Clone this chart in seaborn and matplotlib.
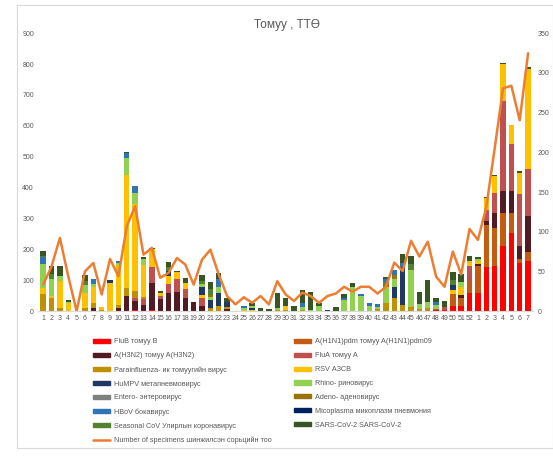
import numpy as np
import pandas as pd
import matplotlib
matplotlib.use("Agg")
import matplotlib.pyplot as plt
import seaborn as sns
from matplotlib.patches import Rectangle

# weeks: 1..52 of one season, then 1..7 of the next year
weeks = [str(w) for w in range(1, 53)] + [str(w) for w in range(1, 8)]

# positive specimens per virus (right axis, 0-350)
flu_b = [0, 0, 0, 0, 0, 0, 0, 0, 0, 0,
         0, 2, 0, 1, 0, 0, 0, 0, 0, 0,
         0, 0, 0, 0, 0, 0, 0, 0, 0, 0,
         0, 0, 0, 0, 0, 0, 0, 0, 0, 0,
         0, 0, 0, 0, 0, 0, 0, 1, 2, 6,
         7, 23, 23, 55, 57, 82, 99, 61, 63]
h1n1 = [0, 0, 0, 0, 0, 0, 0, 0, 0, 0,
        0, 0, 0, 0, 0, 0, 0, 0, 0, 0,
        0, 0, 0, 0, 0, 0, 0, 0, 0, 0,
        0, 0, 0, 0, 0, 0, 0, 0, 0, 0,
        0, 0, 0, 0, 0, 0, 0, 0, 0, 15,
        10, 15, 34, 53, 48, 42, 25, 5, 11]
h3n2 = [0, 0, 0, 0, 0, 0, 4, 0, 0, 4,
        19, 11, 8, 35, 15, 23, 24, 16, 11, 6,
        0, 0, 3, 0, 0, 0, 0, 0, 0, 0,
        0, 0, 0, 0, 0, 0, 0, 0, 0, 0,
        0, 0, 0, 0, 0, 0, 0, 0, 0, 0,
        3, 0, 2, 6, 19, 27, 27, 16, 46]
flu_a = [0, 0, 0, 0, 0, 0, 0, 0, 0, 0,
         0, 3, 7, 20, 4, 11, 17, 12, 0, 10,
         0, 0, 0, 0, 0, 0, 0, 0, 0, 0,
         0, 0, 0, 0, 0, 0, 0, 0, 0, 0,
         0, 0, 0, 0, 0, 0, 0, 2, 3, 0,
         0, 19, 0, 13, 25, 114, 59, 65, 59]
para = [21, 17, 4, 0, 0, 4, 6, 2, 0, 4,
        10, 10, 3, 0, 0, 0, 0, 0, 0, 0,
        4, 6, 2, 0, 0, 0, 0, 0, 1, 2,
        0, 2, 0, 0, 0, 0, 0, 0, 0, 0,
        3, 10, 17, 8, 5, 3, 4, 0, 0, 0,
        0, 0, 0, 0, 0, 0, 0, 0, 0]
rsv = [8, 2, 34, 10, 0, 19, 21, 3, 36, 50,
       143, 109, 40, 22, 4, 10, 8, 8, 0, 4,
       0, 0, 0, 0, 1, 1, 0, 0, 0, 4,
       0, 0, 0, 0, 0, 0, 0, 0, 0, 0,
       0, 0, 0, 0, 0, 0, 0, 0, 0, 6,
       11, 6, 4, 15, 21, 46, 25, 27, 126]
humpv = [0, 0, 0, 0, 0, 0, 0, 0, 3, 0,
         0, 0, 0, 0, 0, 6, 0, 0, 0, 10,
         10, 17, 7, 0, 0, 3, 0, 0, 0, 0,
         0, 0, 0, 0, 1, 0, 0, 0, 0, 0,
         0, 0, 13, 48, 0, 0, 0, 0, 0, 6,
         0, 0, 0, 0, 0, 0, 0, 0, 0]
rhino = [31, 21, 6, 1, 0, 10, 3, 0, 0, 3,
         21, 14, 8, 0, 0, 0, 0, 0, 0, 4,
         4, 8, 0, 0, 3, 2, 0, 0, 3, 0,
         0, 3, 2, 6, 0, 0, 14, 30, 19, 7,
         2, 20, 10, 0, 47, 6, 8, 5, 0, 0,
         6, 0, 3, 0, 0, 0, 0, 0, 0]
entero = [0] * 59
adeno = [0, 0, 0, 0, 0, 0, 0, 0, 0, 0,
         0, 0, 0, 0, 0, 0, 0, 0, 0, 0,
         2, 0, 0, 0, 0, 0, 0, 0, 0, 0,
         0, 0, 0, 0, 0, 0, 0, 0, 0, 0,
         0, 5, 6, 0, 0, 0, 0, 0, 0, 0,
         0, 0, 0, 0, 0, 0, 0, 0, 0]
hbov = [8, 0, 0, 0, 0, 0, 6, 0, 0, 2,
        6, 8, 0, 0, 0, 0, 0, 0, 0, 0,
        0, 10, 0, 0, 3, 0, 0, 0, 0, 0,
        0, 5, 0, 0, 0, 0, 2, 0, 2, 3,
        4, 6, 6, 5, 0, 0, 0, 3, 0, 0,
        0, 0, 0, 0, 0, 0, 0, 0, 0]
myco = [0] * 59
seasonal_cov = [2, 7, 0, 0, 0, 5, 0, 0, 0, 0,
                0, 0, 0, 0, 0, 6, 0, 0, 0, 4,
                8, 0, 0, 0, 0, 0, 0, 0, 0, 0,
                0, 0, 0, 0, 0, 0, 0, 0, 0, 0,
                0, 0, 0, 0, 8, 0, 0, 0, 0, 6,
                0, 0, 0, 0, 0, 0, 0, 0, 0]
sars_cov2 = [6, 10, 13, 3, 0, 8, 0, 0, 0, 0,
             1, 0, 2, 1, 3, 6, 1, 6, 0, 7,
             9, 7, 4, 0, 0, 4, 4, 3, 19, 10,
             7, 17, 22, 4, 0, 5, 5, 5, 0, 0,
             0, 2, 0, 11, 9, 15, 27, 5, 8, 10,
             10, 7, 2, 2, 2, 2, 0, 2, 2]

# number of tested specimens (left axis, 0-900)
specimens = [86, 145, 237, 113, 0, 129, 156, 54, 169, 113,
             275, 340, 183, 205, 108, 124, 172, 151, 86, 167,
             199, 119, 49, 22, 45, 27, 49, 22, 97, 54,
             33, 60, 49, 27, 49, 57, 79, 63, 79, 79,
             57, 79, 157, 130, 228, 177, 225, 112, 79, 193,
             119, 266, 231, 336, 526, 721, 730, 618, 835]

series = [
    ("FluB томуу B", flu_b, "#FF0000"),
    ("A(H1N1)pdm томуу A(H1N1)pdm09", h1n1, "#C55A11"),
    ("A(H3N2) томуу A(H3N2)", h3n2, "#521B24"),
    ("FluA томуу A", flu_a, "#C0504D"),
    ("Parainfluenza- ик томуугийн вирус", para, "#BF9000"),
    ("RSV АЗСВ", rsv, "#FFC000"),
    ("HuMPV метапневмовирус", humpv, "#203864"),
    ("Rhino- риновирус", rhino, "#92D050"),
    ("Entero- энтеровирус", entero, "#7F7F7F"),
    ("Adeno- аденовирус", adeno, "#997300"),
    ("HBoV бокавирус", hbov, "#2E75B6"),
    ("Micoplasma микоплазм пневмония", myco, "#002060"),
    ("Seasonal CoV Улирлын коронавирус", seasonal_cov, "#548235"),
    ("SARS-CoV-2 SARS-CoV-2", sars_cov2, "#375623"),
]
line_label = "Number of specimens шинжилсэн сорьцийн тоо"

sns.set_style("white")
plt.rcParams['font.family'] = ['Liberation Sans', 'DejaVu Sans']
grey = "#595959"

fig = plt.figure(figsize=(5.53, 4.61), dpi=100)
ax_line = fig.add_axes([0.069, 0.325, 0.895, 0.603])
ax_bar = ax_line.twinx()

pos = np.arange(len(weeks))
bottom = np.zeros(len(weeks))
for name, vals, col in series:
    sns.barplot(x=pos, y=vals, bottom=bottom.copy(), color=col, saturation=1,
                width=0.65, errorbar=None, label=name, linewidth=0,
                edgecolor="none", ax=ax_bar)
    bottom += np.array(vals)
if ax_bar.get_legend() is not None:
    ax_bar.get_legend().remove()

sns.lineplot(x=pos, y=specimens, color="#ED7D31", linewidth=1.8,
             label=line_label, ax=ax_line, legend=False)

ax_line.set_zorder(ax_bar.get_zorder() + 1)
ax_line.patch.set_visible(False)

ax_line.set_ylim(0, 900)
ax_line.set_yticks(range(0, 901, 100))
ax_bar.set_ylim(0, 350)
ax_bar.set_yticks(range(0, 351, 50))
ax_line.set_xlim(-0.6, len(weeks) - 0.4)
ax_line.set_xticks(pos)
ax_line.set_xticklabels(weeks)
ax_bar.set_xlim(-0.6, len(weeks) - 0.4)

for a in (ax_line, ax_bar):
    a.set_xlabel("")
    a.set_ylabel("")
    a.tick_params(length=0, labelsize=5, colors=grey, pad=3)
    for s in a.spines.values():
        s.set_visible(False)
ax_line.spines["bottom"].set_visible(True)
ax_line.spines["bottom"].set_color("#D9D9D9")

fig.text(0.519, 0.946, "Томуу , ТТӨ", ha="center", va="center", fontsize=8.5, color=grey)

# legend: two fixed columns, filled row by row like the original
handles, labels = [], []
for name, vals, col in series:
    handles.append(plt.Rectangle((0, 0), 1, 1, color=col))
    labels.append(name)
line_handle = ax_line.get_lines()[0]
left_h = handles[0::2] + [line_handle]
left_l = labels[0::2] + [line_label]
right_h = handles[1::2]
right_l = labels[1::2]
leg_kw = dict(loc="upper left", frameon=False, fontsize=5.2, handlelength=2.3,
              handleheight=0.5, handletextpad=0.6, labelspacing=0.95,
              labelcolor=grey, borderaxespad=0)
fig.legend(left_h, left_l, bbox_to_anchor=(0.163, 0.272), **leg_kw)
fig.legend(right_h, right_l, bbox_to_anchor=(0.527, 0.272), **leg_kw)

fig.add_artist(Rectangle((0.031, 0.028), 0.969, 0.961, transform=fig.transFigure,
                         fill=False, edgecolor="#D9D9D9", linewidth=0.8))

fig.savefig("out.png", dpi=100)
